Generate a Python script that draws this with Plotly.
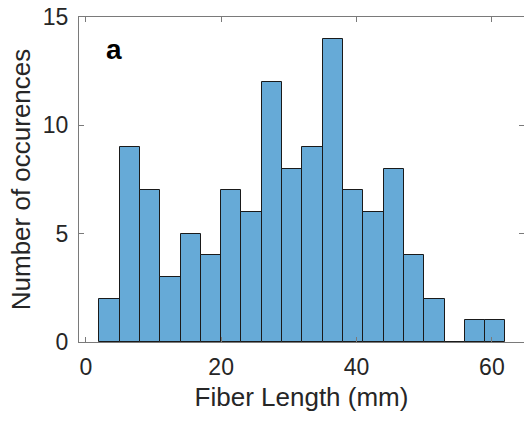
import plotly.graph_objects as go

# Histogram data
bin_edges = [2, 5, 8, 11, 14, 17, 20, 23, 26, 29, 32, 35, 38, 41, 44, 47, 50, 53, 56, 59, 62]
counts = [2, 9, 7, 3, 5, 4, 7, 6, 12, 8, 9, 14, 7, 6, 8, 4, 2, 0, 1, 1]
x_ticks = [0, 20, 40, 60]
y_ticks = [0, 5, 10, 15]

centers = [(a + b) / 2 for a, b in zip(bin_edges[:-1], bin_edges[1:])]
widths = [b - a for a, b in zip(bin_edges[:-1], bin_edges[1:])]

FONT = "Liberation Sans, Arial, sans-serif"
TXT = "#262626"
AX = "#7a7a7a"

fig = go.Figure()
fig.add_trace(go.Bar(
    x=centers, y=counts, width=widths,
    marker=dict(color="#66AAD7", line=dict(color="#1a1a1a", width=1)),
    hoverinfo="x+y",
))

fig.add_annotation(
    x=0.078, y=0.90, xref="paper", yref="paper", text="<b>a</b>",
    showarrow=False, font=dict(family=FONT, size=28, color="#000000"),
    xanchor="center", yanchor="middle",
)

axis_common = dict(
    showline=True, linecolor=AX, linewidth=1, mirror="ticks",
    ticks="inside", ticklen=5, tickcolor=AX, tickwidth=1,
    showgrid=False, zeroline=False,
    tickfont=dict(family=FONT, size=23, color=TXT),
)

fig.update_layout(
    width=524, height=421,
    margin=dict(l=79, r=0, t=17, b=79),
    paper_bgcolor="white", plot_bgcolor="white",
    showlegend=False,
    bargap=0,
    xaxis=dict(
        range=[-1, 64.74], tickvals=x_ticks,
        title=dict(text="Fiber Length (mm)", font=dict(family=FONT, size=26, color=TXT), standoff=9),
        ticklabelstandoff=4,
        **axis_common,
    ),
    yaxis=dict(
        range=[0, 15], tickvals=y_ticks,
        title=dict(text="Number of occurences", font=dict(family=FONT, size=26, color=TXT), standoff=4),
        ticklabelstandoff=5,
        **axis_common,
    ),
)

fig.write_html("out.html")
